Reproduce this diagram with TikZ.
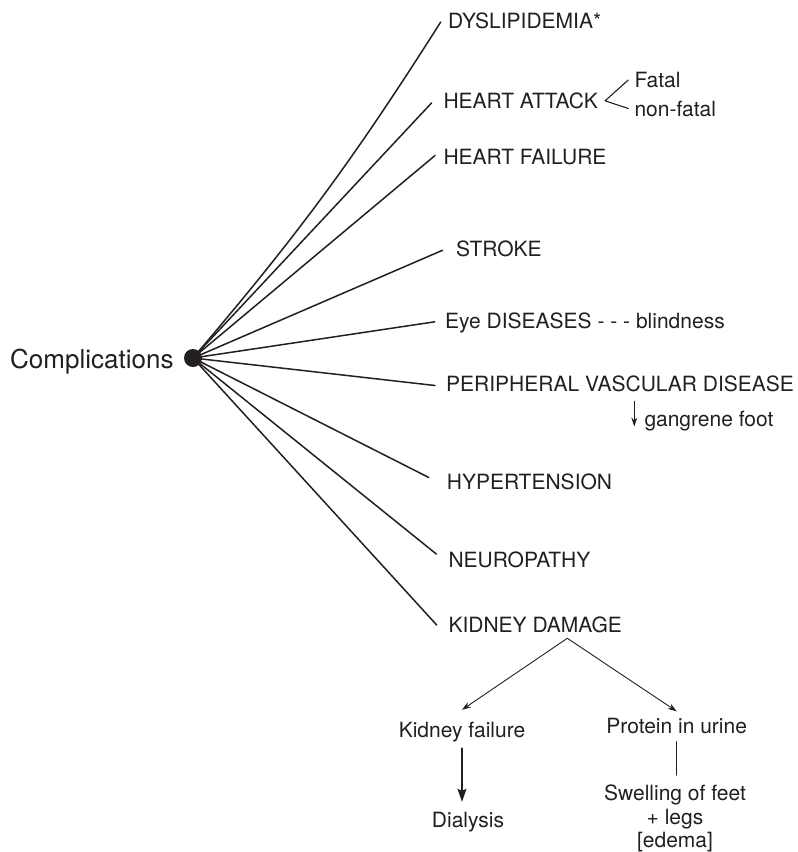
\documentclass[tikz,border=0pt]{standalone}
\usepackage{fontspec}
\setmainfont{TeX Gyre Heros}
\usetikzlibrary{arrows.meta}
\definecolor{ink}{RGB}{35,31,32}
\tikzset{
  lbl/.style={inner sep=0pt,text height=15pt,text depth=0pt,font=\fontsize{21}{23.3}\selectfont},
  spoke/.style={line width=1.5pt},
  thin/.style={line width=0.9pt},
}
\begin{document}
\begin{tikzpicture}[x=1pt,y=-1pt,color=ink,line join=round,line cap=round,>={Stealth[length=9pt,width=6pt]}]
	\useasboundingbox (0,0) rectangle (798,852);
	% hub
	\node[circle,fill,inner sep=0pt,minimum size=18pt] (hub) at (193,358) {};
	\node[inner sep=0pt,text height=18.7pt,text depth=0pt,anchor=west,font=\fontsize{26}{30}\selectfont] (cpl) at (10,359) {Complications};
	% branch labels
	\node[lbl,anchor=west] (dys) at (448,21) {DYSLIPIDEMIA*};
	\node[lbl,anchor=west] (ha) at (443.3,100.8) {HEART ATTACK};
	\node[lbl,anchor=west] (fat) at (634.3,80) {Fatal};
	\node[lbl,anchor=west] (nfat) at (634.3,108.5) {non-fatal};
	\node[lbl,anchor=west] (hf) at (443.3,156.7) {HEART FAILURE};
	\node[lbl,anchor=west] (str) at (456,249) {STROKE};
	\node[lbl,anchor=west] (eye) at (445,321) {Eye DISEASES - - - blindness};
	\node[lbl,anchor=west] (pvd) at (446,384) {PERIPHERAL VASCULAR DISEASE};
	\node[lbl,anchor=west] (gf) at (644.3,418.5) {gangrene foot};
	\node[lbl,anchor=west] (hyp) at (446.7,481.7) {HYPERTENSION};
	\node[lbl,anchor=west] (neu) at (448.3,559.5) {NEUROPATHY};
	\node[lbl,anchor=west] (kd) at (448.3,625.3) {KIDNEY DAMAGE};
	% kidney sub tree
	\node[lbl] (kf) at (462,729.5) {Kidney failure};
	\node[lbl] (dia) at (468,819.5) {Dialysis};
	\node[lbl] (pu) at (676.7,726) {Protein in urine};
	\node[inner sep=0pt,anchor=north,align=center,font=\fontsize{21}{23.3}\selectfont] (sw) at (675,785) {Swelling of feet\\+ legs\\{[edema]}};
	% spoke ends
	\coordinate (e1) at (440.7,22);
	\coordinate (e2) at (431.5,103);
	\coordinate (e3) at (435,155.5);
	\coordinate (e4) at (442.5,250.3);
	\coordinate (e5) at (434.7,321.8);
	\coordinate (e6) at (435,385.5);
	\coordinate (e7) at (428.8,477.5);
	\coordinate (e8) at (436.3,554);
	\coordinate (e9) at (436.7,625);
	\coordinate (kap) at (567.3,638.3);
	\draw[spoke] (hub.center) to[bend right=4] (e1);
	\foreach \c in {e2,e3,e4,e5,e6,e7,e8,e9}
		\draw[spoke] (hub.center) -- (\c);
	% fatal / non-fatal bracket
	\draw[line width=1.1pt] ([xshift=-6pt]fat.west) -- ([xshift=7pt]ha.east) -- ([xshift=-6pt]nfat.west);
	% gangrene arrow
	\draw[->,line width=1.1pt] ([shift={(-10,-17)}]gf.west) -- ++(0,25);
	% kidney arrows
	\draw[->,thin] (kap) -- ([yshift=12pt]kf.north);
	\draw[->,thin] (kap) -- ([yshift=7pt]pu.north);
	\draw[-{Stealth[length=13pt,width=9pt,inset=2pt]},line width=1.5pt,shorten <=11pt,shorten >=10pt] (kf.south) -- (kf.south |- dia.north);
	\draw[line width=1.1pt,shorten <=8pt,shorten >=10pt] (pu.south) -- (pu.south |- sw.north);
\end{tikzpicture}
\end{document}
